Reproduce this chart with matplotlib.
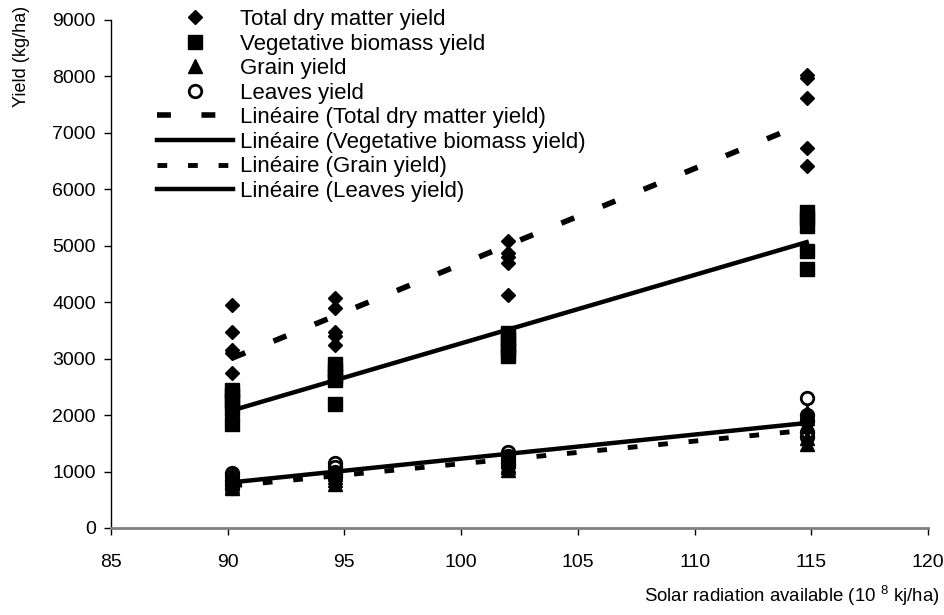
import numpy as np
import matplotlib
matplotlib.use("Agg")
import matplotlib.pyplot as plt
from matplotlib import font_manager

# Solar radiation levels (10^8 kJ/ha) and yields (kg/ha) per replicate
radiation = [90.2, 94.6, 102.0, 114.8]

total_dry_matter = [
    [3950, 3480, 3150, 3100, 2740],
    [4070, 3890, 3470, 3250, 3400],
    [5080, 4870, 4690, 4120, 4800],
    [8020, 7970, 7620, 6740, 6410],
]
vegetative_biomass = [
    [2450, 2350, 2250, 2100, 1850],
    [2900, 2800, 2700, 2620, 2200],
    [3450, 3350, 3250, 3150, 3050],
    [5600, 5500, 5350, 4900, 4580],
]
grain = [
    [950, 880, 800, 740, 700],
    [1000, 950, 900, 850, 780],
    [1250, 1180, 1120, 1080, 1030],
    [2050, 1950, 1800, 1600, 1490],
]
leaves = [
    [980, 920, 850, 780, 700],
    [1150, 1080, 1000, 950, 900],
    [1350, 1280, 1200, 1150, 1100],
    [2300, 2000, 1900, 1700, 1620],
]

series_names = ["Total dry matter yield", "Vegetative biomass yield",
                "Grain yield", "Leaves yield"]

x_ticks = [85, 90, 95, 100, 105, 110, 115, 120]
y_ticks = [0, 1000, 2000, 3000, 4000, 5000, 6000, 7000, 8000, 9000]

available = {f.name for f in font_manager.fontManager.ttflist}
family = "Liberation Sans Narrow" if "Liberation Sans Narrow" in available else "Liberation Sans"
plt.rcParams["font.family"] = [family, "DejaVu Sans"]
plt.rcParams["mathtext.fontset"] = "custom"
plt.rcParams["mathtext.rm"] = family
plt.rcParams["lines.scale_dashes"] = False

W, H = 944, 615
fig = plt.figure(figsize=(W / 100, H / 100), dpi=100)
ax = fig.add_axes([111 / W, 1 - 528 / H, (928 - 111) / W, (528 - 20) / H])

marker_styles = [
    dict(marker="D", ms=7.0, mfc="black", mec="black"),
    dict(marker="s", ms=9.5, mfc="black", mec="black"),
    dict(marker="^", ms=10, mfc="black", mec="black"),
    dict(marker="o", ms=9, mfc="none", mec="black", mew=2.0),
]
line_styles = [
    dict(lw=4.0, ls=(0, (10, 22)), dash_capstyle="butt"),
    dict(lw=3.2, ls="-"),
    dict(lw=3.5, ls=(0, (7, 15)), dash_capstyle="butt"),
    dict(lw=3.2, ls="-"),
]

datasets = [total_dry_matter, vegetative_biomass, grain, leaves]
point_handles, fit_handles = [], []
for name, data, ms_kw in zip(series_names, datasets, marker_styles):
    xs = np.repeat(radiation, [len(v) for v in data])
    ys = np.concatenate([np.asarray(v, float) for v in data])
    h, = ax.plot(xs, ys, ls="none", label=name, zorder=3, **ms_kw)
    point_handles.append(h)

for name, data, ln_kw in zip(series_names, datasets, line_styles):
    xs = np.repeat(radiation, [len(v) for v in data])
    ys = np.concatenate([np.asarray(v, float) for v in data])
    slope, intercept = np.polyfit(xs, ys, 1)
    xl = np.array([min(radiation), max(radiation)])
    h, = ax.plot(xl, slope * xl + intercept, color="black",
                 label=f"Linéaire ({name})", zorder=2, **ln_kw)
    fit_handles.append(h)

ax.set_xlim(85, 120)
ax.set_ylim(0, 9000)
ax.set_xticks(x_ticks)
ax.set_yticks(y_ticks)
ax.tick_params(axis="both", labelsize=14, length=5, width=1, color="black",
               direction="out")
ax.tick_params(axis="x", pad=14)
ax.tick_params(axis="y", pad=6)
for side in ("top", "right"):
    ax.spines[side].set_visible(False)
ax.spines["left"].set_linewidth(1.0)
ax.spines["bottom"].set_color("#808080")
ax.spines["bottom"].set_linewidth(2.0)

leg = ax.legend(handles=point_handles + fit_handles, loc="upper left",
                bbox_to_anchor=(157 / W, 1 - 9 / H),
                bbox_transform=fig.transFigure, frameon=False,
                fontsize=16, handlelength=3.4, handletextpad=0.35,
                labelspacing=0.16, borderaxespad=0, borderpad=0)

fig.text(22 / W, 1 - 56 / H, "Yield (kg/ha)", rotation=90, ha="center",
         va="center", fontsize=13)
fig.text(940 / W, 1 - 596 / H, "Solar radiation available (10 $^{8}$ kj/ha)",
         ha="right", va="center", fontsize=13.4)

fig.savefig("out.png", dpi=100)
